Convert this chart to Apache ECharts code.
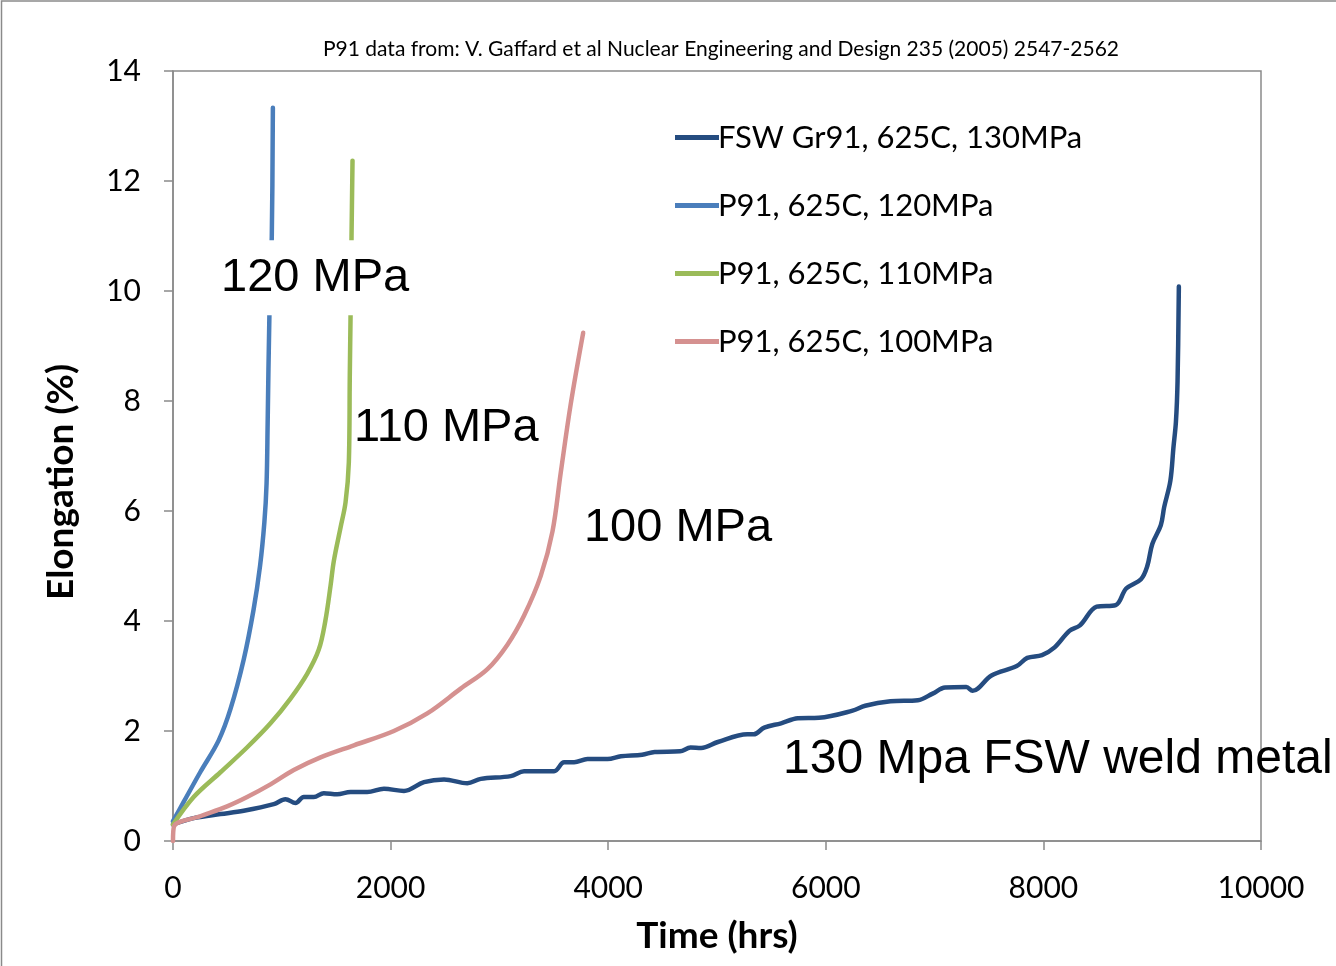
<!DOCTYPE html>
<html>
<head>
<meta charset="utf-8">
<title>Creep elongation</title>
<script src="https://cdn.jsdelivr.net/npm/echarts@6/dist/echarts.min.js"></script>
<style>
  html, body { margin: 0; padding: 0; background: #fff; }
  #chart { width: 1336px; height: 966px; }
</style>
</head>
<body>
<div id="chart"></div>
<script>
// series names (legend order)
var seriesNames = ['FSW Gr91, 625C, 130MPa', 'P91, 625C, 120MPa', 'P91, 625C, 110MPa', 'P91, 625C, 100MPa'];

// FSW weld metal, 130 MPa
var timeFSW = [0, 200, 436, 650, 926, 1034, 1126, 1202, 1294, 1386, 1509, 1632, 1785, 1939, 2123, 2307, 2491, 2705, 2828, 3104,
  3227, 3503, 3595, 3687, 3810, 3994, 4117, 4312, 4428, 4660, 4757, 4854, 5008, 5279, 5337, 5434, 5589, 5743, 5937, 6246,
  6362, 6595, 6846, 6982, 7097, 7291, 7349, 7523, 7755, 7852, 7987, 8103, 8239, 8336, 8490, 8665, 8761, 8897, 8955, 9001,
  9079, 9110, 9167, 9195, 9218, 9233, 9245];
var elongFSW = [0.3, 0.42, 0.49, 0.55, 0.67, 0.76, 0.69, 0.8, 0.8, 0.87, 0.85, 0.89, 0.89, 0.95, 0.91, 1.07, 1.12, 1.05, 1.13, 1.18,
  1.27, 1.27, 1.43, 1.43, 1.49, 1.49, 1.54, 1.57, 1.62, 1.63, 1.70, 1.69, 1.80, 1.94, 1.94, 2.06, 2.14, 2.23, 2.24, 2.37,
  2.46, 2.54, 2.56, 2.68, 2.79, 2.80, 2.73, 3.01, 3.18, 3.33, 3.38, 3.52, 3.82, 3.92, 4.26, 4.29, 4.59, 4.76, 5.0, 5.4,
  5.74, 6.07, 6.55, 7.15, 7.62, 8.36, 10.08];

// P91, 120 MPa
var time120 = [0, 98, 250, 420, 530, 650, 740, 800, 840, 860, 870, 886, 908, 918];
var elong120 = [0.36, 0.71, 1.25, 1.83, 2.41, 3.3, 4.2, 5.0, 5.8, 6.5, 7.6, 9.55, 11.0, 13.33];

// P91, 110 MPa
var time110 = [0, 190, 436, 680, 896, 1080, 1233, 1340, 1400, 1448, 1478, 1540, 1586, 1616, 1625, 1632, 1641, 1650];
var elong110 = [0.3, 0.8, 1.25, 1.7, 2.14, 2.59, 3.04, 3.48, 4.0, 4.64, 5.09, 5.7, 6.16, 6.88, 8.48, 9.55, 11.0, 12.37];

// P91, 100 MPa
var time100 = [0, 10, 250, 497, 681, 896, 1110, 1356, 1663, 2030, 2337, 2644, 2890, 3074, 3227, 3380, 3488, 3564, 3656, 3770];
var elong100 = [0, 0.27, 0.45, 0.63, 0.8, 1.03, 1.29, 1.52, 1.74, 2.0, 2.32, 2.77, 3.125, 3.57, 4.1, 4.82, 5.63, 6.7, 7.95, 9.24];

// text labels placed in data coordinates [time, elongation, text, white box]
var notes = [
  [423, 10.24, '120 MPa', true],
  [1645, 7.51, '110 MPa', true],
  [3759, 5.69, '100 MPa', true],
  [5607, 1.47, '130 Mpa FSW weld metal', false]
];

var colors = ['#254c80', '#4a7ebb', '#9bbb59', '#d59190'];

function zip(xs, ys) {
  return xs.map(function (x, i) { return [x, ys[i]]; });
}

var chart = echarts.init(document.getElementById('chart'));
var uiFont = 'Lato';

var option = {
  animation: false,
  backgroundColor: '#fff',
  color: colors,
  title: {
    text: 'P91 data from: V. Gaffard et al Nuclear Engineering and Design 235 (2005) 2547-2562',
    left: 716,
    textAlign: 'center',
    top: 34,
    textStyle: { fontFamily: uiFont, fontWeight: 'normal', fontSize: 21, color: '#000' }
  },
  legend: {
    orient: 'vertical',
    left: 670,
    top: 117,
    itemGap: 37,
    itemWidth: 44,
    itemHeight: 5,
    icon: 'rect',
    data: seriesNames,
    textStyle: { fontFamily: uiFont, fontSize: 31, color: '#000', padding: [0, 0, 0, -6] }
  },
  grid: {
    left: 173,
    right: 75,
    top: 71,
    bottom: 125,
    show: true,
    borderColor: '#8a8a8a',
    borderWidth: 1.5
  },
  xAxis: {
    type: 'value',
    min: 0,
    max: 10000,
    interval: 2000,
    name: 'Time (hrs)',
    nameLocation: 'middle',
    nameGap: 77,
    nameTextStyle: { fontFamily: uiFont, fontWeight: 'bold', fontSize: 37, color: '#000' },
    axisLine: { show: true, lineStyle: { color: '#8a8a8a', width: 1.5 } },
    axisTick: { show: true, length: 9, inside: false, lineStyle: { color: '#8a8a8a', width: 1.5 } },
    axisLabel: { fontFamily: uiFont, fontSize: 30, color: '#000', margin: 32, formatter: function (v) { return String(v); } },
    splitLine: { show: false }
  },
  yAxis: {
    type: 'value',
    min: 0,
    max: 14,
    interval: 2,
    name: 'Elongation (%)',
    nameLocation: 'middle',
    nameGap: 93,
    nameTextStyle: { fontFamily: uiFont, fontWeight: 'bold', fontSize: 37, color: '#000', padding: [0, 52, 0, 0] },
    axisLine: { show: true, lineStyle: { color: '#8a8a8a', width: 1.5 } },
    axisTick: { show: true, length: 9, lineStyle: { color: '#8a8a8a', width: 1.5 } },
    axisLabel: { fontFamily: uiFont, fontSize: 30, color: '#000', margin: 32, formatter: function (v) { return String(v); } },
    splitLine: { show: false }
  },
  series: [
    { name: seriesNames[0], data: zip(timeFSW, elongFSW) },
    { name: seriesNames[1], data: zip(time120, elong120) },
    { name: seriesNames[2], data: zip(time110, elong110) },
    { name: seriesNames[3], data: zip(time100, elong100) }
  ].map(function (s, i) {
    return {
      name: s.name,
      type: 'line',
      data: s.data,
      showSymbol: false,
      symbol: 'none',
      smooth: 0.35,
      lineStyle: { width: 4.5, color: colors[i], cap: 'round', join: 'round' },
      itemStyle: { color: colors[i] },
      z: 2 + i
    };
  })
};

chart.setOption(option);

// annotations and the chart-area frame, positioned through the axes
var graphics = [{
  type: 'rect',
  shape: { x: 1.5, y: 1, width: 1400, height: 1000 },
  style: { fill: 'none', stroke: '#8a8a8a', lineWidth: 1.5 },
  silent: true,
  z: 1
}];
notes.forEach(function (n) {
  var p = chart.convertToPixel({ gridIndex: 0 }, [n[0], n[1]]);
  graphics.push({
    type: 'text',
    x: p[0],
    y: p[1],
    z: 50,
    style: {
      text: n[2],
      fontFamily: 'Liberation Sans, Arial, sans-serif',
      fontSize: n[3] ? 47 : 48,
      fill: '#000',
      align: 'left',
      verticalAlign: 'middle',
      backgroundColor: n[3] ? '#fff' : 'transparent',
      padding: n[3] ? [14, 2, 14, 2] : 0
    }
  });
});
chart.setOption({ graphic: graphics });
</script>
</body>
</html>
